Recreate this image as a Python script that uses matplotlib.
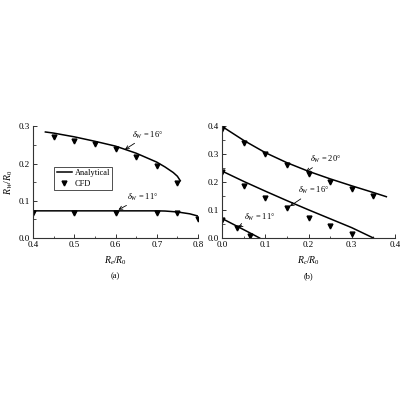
import matplotlib
matplotlib.use("Agg")
import matplotlib.pyplot as plt
from matplotlib.ticker import AutoMinorLocator, MultipleLocator

plt.rcParams['font.family'] = ['Liberation Serif', 'DejaVu Serif']
plt.rcParams['mathtext.fontset'] = 'custom'
plt.rcParams['mathtext.rm'] = 'Liberation Serif'
plt.rcParams['mathtext.it'] = 'Liberation Serif:italic'

# ---- panel (a) data ----
a16_line_x = [0.43, 0.45, 0.5, 0.55, 0.6, 0.65, 0.7, 0.72, 0.74, 0.75, 0.757]
a16_line_y = [0.285, 0.282, 0.272, 0.26, 0.247, 0.228, 0.204, 0.191, 0.176, 0.166, 0.154]
a16_cfd_x = [0.45, 0.5, 0.55, 0.6, 0.65, 0.7, 0.75]
a16_cfd_y = [0.272, 0.262, 0.253, 0.240, 0.218, 0.193, 0.148]

a11_line_x = [0.4, 0.5, 0.6, 0.7, 0.72, 0.75, 0.78, 0.8]
a11_line_y = [0.073, 0.073, 0.073, 0.073, 0.0725, 0.070, 0.065, 0.059]
a11_cfd_x = [0.4, 0.5, 0.6, 0.7, 0.75, 0.8]
a11_cfd_y = [0.067, 0.067, 0.067, 0.067, 0.066, 0.051]

# ---- panel (b) data ----
b20_line_x = [0.0, 0.05, 0.1, 0.15, 0.2, 0.25, 0.3, 0.35, 0.38]
b20_line_y = [0.400, 0.350, 0.306, 0.270, 0.239, 0.212, 0.187, 0.163, 0.148]
b20_cfd_x = [0.0, 0.05, 0.1, 0.15, 0.2, 0.25, 0.3, 0.35]
b20_cfd_y = [0.390, 0.342, 0.300, 0.263, 0.230, 0.200, 0.174, 0.150]

b16_line_x = [0.0, 0.05, 0.1, 0.15, 0.2, 0.25, 0.3, 0.35]
b16_line_y = [0.240, 0.203, 0.168, 0.134, 0.101, 0.069, 0.037, 0.0]
b16_cfd_x = [0.0, 0.05, 0.1, 0.15, 0.2, 0.25, 0.3]
b16_cfd_y = [0.235, 0.187, 0.145, 0.106, 0.072, 0.043, 0.013]

b11_line_x = [0.0, 0.02, 0.04, 0.06, 0.087]
b11_line_y = [0.070, 0.054, 0.038, 0.022, 0.0]
b11_cfd_x = [0.0, 0.035, 0.065]
b11_cfd_y = [0.065, 0.035, 0.008]

fig = plt.figure(figsize=(4, 4), dpi=100)
axa = fig.add_axes([0.0825, 0.405, 0.4125, 0.279])
axb = fig.add_axes([0.555, 0.405, 0.4325, 0.279])

lw = 1.1
ms = 3.5
fs = 6.5

def style(ax):
    for s in ['top', 'right']:
        ax.spines[s].set_visible(False)
    for s in ['left', 'bottom']:
        ax.spines[s].set_color('#333333')
        ax.spines[s].set_linewidth(0.8)
    ax.tick_params(which='both', direction='in', labelsize=fs, pad=2, colors='#333333', labelcolor='black')
    ax.tick_params(which='major', length=3, width=0.7)
    ax.tick_params(which='minor', length=1.8, width=0.6)
    ax.xaxis.set_minor_locator(AutoMinorLocator(2))
    ax.yaxis.set_minor_locator(AutoMinorLocator(2))

# panel (a)
axa.plot(a16_line_x, a16_line_y, color='black', lw=lw, label='Analytical')
axa.plot(a16_cfd_x, a16_cfd_y, 'v', color='black', ms=ms, label='CFD', ls='none')
axa.plot(a11_line_x, a11_line_y, color='black', lw=lw)
axa.plot(a11_cfd_x, a11_cfd_y, 'v', color='black', ms=ms, ls='none')
axa.set_xlim(0.4, 0.8)
axa.set_ylim(0.0, 0.3)
axa.xaxis.set_major_locator(MultipleLocator(0.1))
axa.yaxis.set_major_locator(MultipleLocator(0.1))
style(axa)
axa.set_xlabel(r'$R_e/R_0$', fontsize=7, labelpad=4)
axa.set_ylabel(r'$R_W/R_0$', fontsize=7, labelpad=3)
axa.text(0.5, -0.31, '(a)', transform=axa.transAxes, ha='center', va='top', fontsize=6)
leg = axa.legend(loc='lower left', bbox_to_anchor=(0.13, 0.43), fontsize=6,
                 frameon=True, fancybox=False, edgecolor='black', handlelength=1.8,
                 borderpad=0.3, labelspacing=0.3, handletextpad=0.3, borderaxespad=0)
leg.get_frame().set_linewidth(0.6)

arrow = dict(arrowstyle='->', color='black', lw=0.6, shrinkA=0, shrinkB=0)
axa.annotate(r'$\delta_W$ = 16°', xy=(0.623, 0.238), xytext=(0.64, 0.262),
             fontsize=6, arrowprops=arrow, va='bottom')
axa.annotate(r'$\delta_W$ = 11°', xy=(0.607, 0.076), xytext=(0.627, 0.095),
             fontsize=6, arrowprops=arrow, va='bottom')

# panel (b)
axb.plot(b20_line_x, b20_line_y, color='black', lw=lw)
axb.plot(b20_cfd_x, b20_cfd_y, 'v', color='black', ms=ms, ls='none')
axb.plot(b16_line_x, b16_line_y, color='black', lw=lw)
axb.plot(b16_cfd_x, b16_cfd_y, 'v', color='black', ms=ms, ls='none')
axb.plot(b11_line_x, b11_line_y, color='black', lw=lw)
axb.plot(b11_cfd_x, b11_cfd_y, 'v', color='black', ms=ms, ls='none')
axb.set_xlim(0.0, 0.4)
axb.set_ylim(0.0, 0.4)
axb.xaxis.set_major_locator(MultipleLocator(0.1))
axb.yaxis.set_major_locator(MultipleLocator(0.1))
style(axb)
axb.set_xlabel(r'$R_c/R_0$', fontsize=7, labelpad=4)
axb.text(0.5, -0.31, '(b)', transform=axb.transAxes, ha='center', va='top', fontsize=6)
axb.annotate(r'$\delta_W$ = 20°', xy=(0.194, 0.237), xytext=(0.203, 0.262),
             fontsize=6, arrowprops=arrow, va='bottom')
axb.annotate(r'$\delta_W$ = 16°', xy=(0.157, 0.114), xytext=(0.175, 0.15),
             fontsize=6, arrowprops=arrow, va='bottom')
axb.annotate(r'$\delta_W$ = 11°', xy=(0.038, 0.04), xytext=(0.05, 0.055),
             fontsize=6, arrowprops=arrow, va='bottom')

fig.savefig('out.png', dpi=100)
